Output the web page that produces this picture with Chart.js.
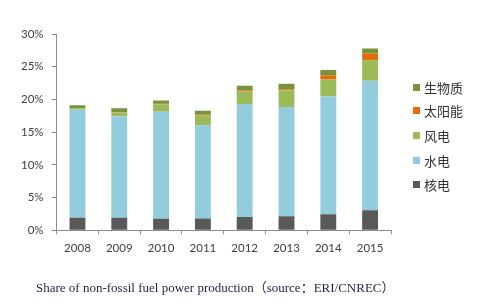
<!DOCTYPE html>
<html>
<head>
<meta charset="utf-8">
<script src="https://cdn.jsdelivr.net/npm/chart.js@4/dist/chart.umd.min.js"></script>
<style>
  html, body { margin: 0; padding: 0; background: #fff; }
  #wrap { position: relative; width: 491px; height: 304px; }
  #legend { position: absolute; left: 413px; top: 0; font-family: "Noto Sans CJK SC", sans-serif; font-size: 13px; color: #333; }
  #legend .item { position: absolute; left: 0; white-space: nowrap; display: flex; align-items: center; height: 16px; }
  #legend .box { width: 7px; height: 7px; margin-right: 4px; }
  #caption { position: absolute; left: 36px; top: 277px; font-family: "Liberation Serif", "Noto Sans CJK SC", serif; font-size: 13px; color: #1f2340; white-space: nowrap; }
</style>
</head>
<body>
<div id="wrap">
  <canvas id="chart" width="491" height="304"></canvas>
  <div id="legend"></div>
  <div id="caption">Share of non-fossil fuel power production（source：ERI/CNREC）</div>
</div>
<script>
// values, in percent of power production
const years = ['2008', '2009', '2010', '2011', '2012', '2013', '2014', '2015'];
const nuclear = [1.9, 1.9, 1.75, 1.8, 2.0, 2.15, 2.45, 3.05];
const hydro = [16.5, 15.5, 16.35, 14.25, 17.3, 16.7, 18.0, 19.8];
const wind = [0.2, 0.6, 1.15, 1.5, 1.9, 2.5, 2.6, 3.15];
const solar = [0.02, 0.05, 0.1, 0.1, 0.2, 0.2, 0.65, 1.0];
const biomass = [0.5, 0.6, 0.5, 0.6, 0.7, 0.85, 0.8, 0.8];
const yTicks = [0, 5, 10, 15, 20, 25, 30];

const series = [
    { label: '核电', data: nuclear, color: '#595959' },
    { label: '水电', data: hydro, color: '#93cddd' },
    { label: '风电', data: wind, color: '#9bbb59' },
    { label: '太阳能', data: solar, color: '#e46c0a' },
    { label: '生物质', data: biomass, color: '#77933c' }
];

const axisColor = '#8c8c8c';
const tickFont = { family: 'Lato, "Open Sans", sans-serif', size: 11.5 };

new Chart(document.getElementById('chart'), {
    type: 'bar',
    data: {
        labels: years,
        datasets: series.map(s => ({
            label: s.label,
            data: s.data,
            backgroundColor: s.color,
            borderWidth: 0,
            categoryPercentage: 1,
            barPercentage: 0.38
        }))
    },
    options: {
        responsive: false,
        animation: false,
        layout: { padding: { left: 13, right: 100, top: 34, bottom: 42 } },
        plugins: {
            legend: { display: false },
            tooltip: { enabled: false }
        },
        scales: {
            x: {
                stacked: true,
                offset: true,
                grid: { display: true, drawOnChartArea: false, offset: true, tickLength: 4, color: axisColor },
                border: { color: axisColor },
                ticks: { color: '#404040', font: tickFont, padding: 7 }
            },
            y: {
                stacked: true,
                min: 0,
                max: 30,
                afterBuildTicks: axis => { axis.ticks = yTicks.map(v => ({ value: v })); },
                grid: { display: true, drawOnChartArea: false, tickLength: 5, color: axisColor },
                border: { color: axisColor },
                ticks: { color: '#404040', font: tickFont, padding: 8, callback: v => v + '%' }
            }
        }
    }
});

// legend on the right, top item first (reverse of stack order)
const legend = document.getElementById('legend');
const legendTop = [87, 110.5, 135, 160, 184.5];
series.slice().reverse().forEach((s, i) => {
    const item = document.createElement('div');
    item.className = 'item';
    item.style.top = (legendTop[i] - 8) + 'px';
    item.innerHTML = '<span class="box" style="background:' + s.color + '"></span>' + s.label;
    legend.appendChild(item);
});
</script>
</body>
</html>
